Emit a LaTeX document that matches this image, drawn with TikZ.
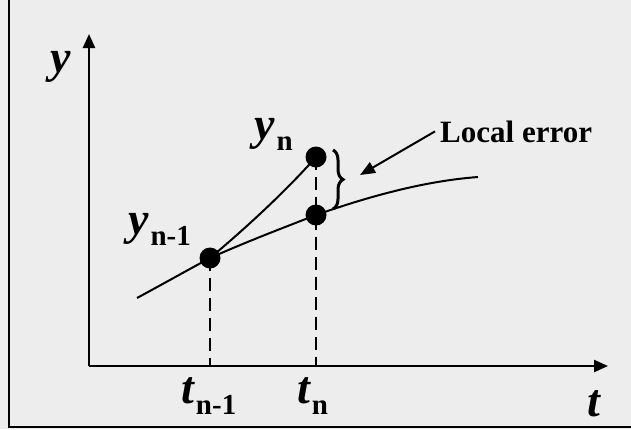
\documentclass[tikz,border=0pt]{standalone}
\usepackage{fontspec}
\setmainfont{Liberation Serif}
\usetikzlibrary{arrows.meta, decorations.pathreplacing}

\newcommand{\varsub}[2]{{\itshape #1}\kern2pt\raisebox{-0.24em}{\fontsize{29}{29}\selectfont\upshape #2}}

\begin{document}
\begin{tikzpicture}[
    x=1pt, y=-1pt,
    axis/.style={line width=2.4pt, -{Triangle[length=14pt, width=12pt]}},
    curve/.style={line width=2pt},
    dot/.style={circle, fill, inner sep=0pt, minimum size=21pt},
    guide/.style={line width=2.4pt, dash pattern=on 13pt off 7pt},
    varlbl/.style={font=\fontsize{46}{46}\selectfont\bfseries, inner sep=0pt},
    note/.style={font=\fontsize{31}{31}\selectfont\bfseries, inner sep=0pt},
    pointer/.style={line width=2pt, -{Triangle[length=15pt, width=12pt]}}
]
  % page and frame
  \fill[black!7] (0,0) rectangle (631,429);
  \useasboundingbox (0,0) rectangle (631,429);
  \coordinate (ftop) at (9,0);
  \coordinate (fcorner) at (9,427);
  \coordinate (fright) at (631,427);
  \draw[line width=2.4pt] (ftop) -- (fcorner) -- (fright);

  % axes
  \coordinate (orig) at (89,366);
  \coordinate (ytop) at (89,34);
  \coordinate (tend) at (608,366);
  \draw[axis] (orig) -- (ytop);
  \draw[axis] (orig) -- (tend);
  \node[varlbl, anchor=base] (ylbl) at (61,72) {\itshape y};
  \node[varlbl, anchor=base] (tlbl) at (594,416) {\itshape t};

  % solution points
  \node[dot] (ynm1) at (210,258) {};
  \node[dot] (yn) at (316,157) {};
  \node[dot] (ytrue) at (316,215) {};
  \coordinate (cs) at (137,298);
  \coordinate (ce) at (478,177);

  % dashed guides
  \draw[guide] (ynm1.center) -- (ynm1 |- orig);
  \draw[guide] (yn.center) -- (yn |- orig);

  % true solution and step
  \draw[curve] (cs) .. controls (161,285) and (186,271) .. (ynm1.center)
    .. controls (246,242) and (280,229) .. (ytrue.center)
    .. controls (370,196) and (425,181) .. (ce);
  \draw[curve] (ynm1.center) .. controls (246,228) and (287,190) .. (yn.center);

  % labels
  \node[varlbl, anchor=base west] (ynlbl) at (254,139) {\varsub{y}{n}};
  \node[varlbl, anchor=base west] (ynm1lbl) at (128,234) {\varsub{y}{n-1}};
  \node[varlbl, anchor=base west] (tnm1lbl) at (181,403) {\varsub{t}{n-1}};
  \node[varlbl, anchor=base west] (tnlbl) at (297,403) {\varsub{t}{n}};

  % local error
  \coordinate (bt) at (333,150);
  \coordinate (bb) at (333,209);
  \draw[decorate, decoration={brace, amplitude=10pt}, line width=3pt] (bt) -- (bb);
  \node[note, anchor=base west] (errlbl) at (440,142) {Local error};
  \coordinate (errtip) at (360,175);
  \draw[pointer] (errlbl.west) ++(-5,0) coordinate (errtail) (errtail) -- (errtip);
\end{tikzpicture}
\end{document}
